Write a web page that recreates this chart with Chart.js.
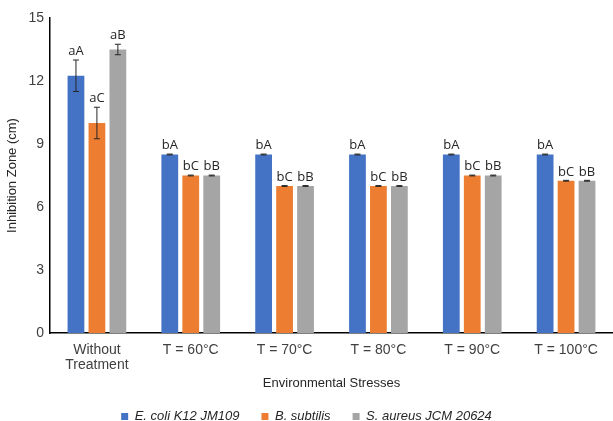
<!DOCTYPE html>
<html>
<head>
<meta charset="utf-8">
<script src="https://cdn.jsdelivr.net/npm/chart.js@4.4.0/dist/chart.umd.min.js"></script>
<style>
  html, body { margin: 0; padding: 0; background: #fff; }
  #wrap { width: 613px; height: 421px; }
</style>
</head>
<body>
<div id="wrap"><canvas id="myChart" width="613" height="421"></canvas></div>
<script>
const categories = [['Without', 'Treatment'], 'T = 60°C', 'T = 70°C', 'T = 80°C', 'T = 90°C', 'T = 100°C'];
const seriesNames = ['E. coli K12 JM109', 'B. subtilis', 'S. aureus JCM 20624'];

const ecoli = [12.25, 8.5, 8.5, 8.5, 8.5, 8.5];
const bsub = [10.0, 7.5, 7.0, 7.0, 7.5, 7.25];
const saureus = [13.5, 7.5, 7.0, 7.0, 7.5, 7.25];

const ecoliErr = [0.75, 0.02, 0.02, 0.02, 0.02, 0.02];
const bsubErr = [0.75, 0.02, 0.02, 0.02, 0.02, 0.02];
const saureusErr = [0.25, 0.02, 0.02, 0.02, 0.02, 0.02];

const ecoliTags = ['aA', 'bA', 'bA', 'bA', 'bA', 'bA'];
const bsubTags = ['aC', 'bC', 'bC', 'bC', 'bC', 'bC'];
const saureusTags = ['aB', 'bB', 'bB', 'bB', 'bB', 'bB'];

const yTicks = [0, 3, 6, 9, 12, 15];

const errs = [ecoliErr, bsubErr, saureusErr];
const tags = [ecoliTags, bsubTags, saureusTags];
const FONT = '"Liberation Sans", Arial, sans-serif';

// keep the legend short so it sits at the very bottom
const legendHeight = {
  id: 'legendHeight',
  beforeLayout(chart) {
    const lg = chart.legend;
    if (lg && !lg._patched) {
      const fit = lg.fit.bind(lg);
      lg.fit = function () { fit(); this.height = 33; };
      lg._patched = true;
    }
  }
};

// error bars + letter labels
const errorBars = {
  id: 'errorBars',
  afterDatasetsDraw(chart) {
    const ctx = chart.ctx;
    const y = chart.scales.y;
    ctx.save();
    chart.data.datasets.forEach((ds, i) => {
      const meta = chart.getDatasetMeta(i);
      meta.data.forEach((bar, j) => {
        const v = ds.data[j];
        const e = errs[i][j];
        const top = y.getPixelForValue(v + e);
        const bot = y.getPixelForValue(v - e);
        ctx.strokeStyle = '#262626';
        ctx.lineWidth = 1;
        ctx.beginPath();
        ctx.moveTo(bar.x, top); ctx.lineTo(bar.x, bot);
        ctx.moveTo(bar.x - 3, top); ctx.lineTo(bar.x + 3, top);
        ctx.moveTo(bar.x - 3, bot); ctx.lineTo(bar.x + 3, bot);
        ctx.stroke();
        ctx.fillStyle = '#262626';
        ctx.font = '13px "Open Sans", sans-serif';
        ctx.textAlign = 'center';
        ctx.textBaseline = 'bottom';
        ctx.fillText(tags[i][j], bar.x, top - 2);
      });
    });
    ctx.restore();
  }
};

const ctx = document.getElementById('myChart');
new Chart(ctx, {
  type: 'bar',
  data: {
    labels: categories,
    datasets: [
      { label: seriesNames[0], data: ecoli, backgroundColor: '#4472C4' },
      { label: seriesNames[1], data: bsub, backgroundColor: '#ED7D31' },
      { label: seriesNames[2], data: saureus, backgroundColor: '#A5A5A5' }
    ]
  },
  options: {
    responsive: false,
    animation: false,
    devicePixelRatio: 1,
    datasets: { bar: { categoryPercentage: 0.67, barPercentage: 0.8 } },
    layout: { padding: { top: 18, right: 0, left: 0, bottom: 0 } },
    plugins: {
      legend: {
        position: 'bottom',
        labels: {
          boxWidth: 7, boxHeight: 7, padding: 22,
          color: '#262626',
          font: { family: FONT, size: 13, style: 'italic' }
        }
      },
      tooltip: { enabled: false }
    },
    scales: {
      x: {
        afterFit(axis) { axis.height = 55; },
        grid: { display: false, drawTicks: false },
        border: { color: '#000', width: 1.5 },
        ticks: { color: '#404040', padding: 9, font: { family: FONT, size: 14, lineHeight: 1.1 } },
        title: { display: true, text: 'Environmental Stresses', color: '#262626', padding: { top: 0, bottom: -3 },
          font: { family: FONT, size: 13 } }
      },
      y: {
        min: 0, max: 15,
        afterBuildTicks(axis) { axis.ticks = yTicks.map(v => ({ value: v })); },
        afterFit(axis) { axis.width = 50; },
        grid: { display: false, drawTicks: false },
        border: { color: '#000', width: 1.5 },
        ticks: { color: '#404040', padding: 6, font: { family: FONT, size: 14 } },
        title: { display: true, text: 'Inhibition Zone (cm)', color: '#262626', padding: { top: 5, bottom: 0 },
          font: { family: FONT, size: 13 } }
      }
    }
  },
  plugins: [errorBars, legendHeight]
});
</script>
</body>
</html>
